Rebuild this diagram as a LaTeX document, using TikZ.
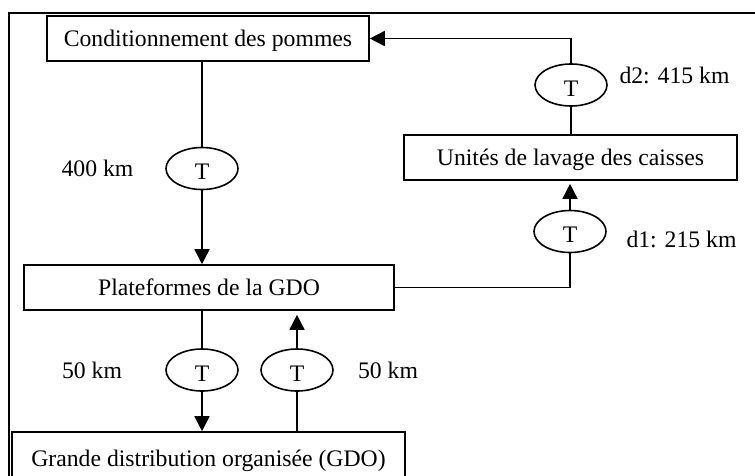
\documentclass[tikz,border=0pt]{standalone}
\usepackage{fontspec}
\setmainfont{Liberation Serif}
\usetikzlibrary{arrows.meta,shapes.geometric}
\begin{document}
\begin{tikzpicture}[x=1pt,y=-1pt,
  every node/.style={font=\fontsize{23.7}{28}\selectfont},
  stage/.style={draw, line width=1.6pt, inner sep=0pt, minimum height=45pt,
    text height=16.5pt, text depth=0pt},
  truck/.style={draw, ellipse, line width=1.6pt, minimum width=72pt,
    minimum height=42pt, inner sep=0pt, text height=22pt, text depth=0pt},
  flow/.style={line width=1.6pt},
  arr/.style={flow, -{Triangle[length=15pt,width=15pt]}}]
  \useasboundingbox (0,0) rectangle (755,475);
  \clip (0,0) rectangle (755,475);

  % outer frame
  \coordinate (fb) at (9,480);
  \coordinate (fc) at (9,13);
  \coordinate (fr) at (760,13);
  \draw[line width=2.4pt] (fb) -- (fc) -- (fr);

  % stages of the chain
  \node[stage, minimum width=322pt] (cond) at (208,38.5) {Conditionnement des pommes};
  \node[stage, minimum width=333pt] (lav) at (570.5,157.5) {Unités de lavage des caisses};
  \node[stage, minimum width=370pt] (plat) at (209,287.5) {Plateformes de la GDO};
  \node[stage, minimum width=393pt, minimum height=53pt] (gdo) at (208.5,458.5) {Grande distribution organisée (GDO)};

  % transport legs
  \node[truck] (t0) at (202,168.5) {T};
  \node[truck] (t2) at (571,85) {T};
  \node[truck] (t1) at (570,231.5) {T};
  \node[truck] (t3) at (202,370) {T};
  \node[truck] (t4) at (297,370) {T};

  % distances
  \node (l0) at (97.5,168.5) {400 km};
  \node (l2) at (674.5,75) {d2: 415 km};
  \node (l1) at (681.5,239.5) {d1: 215 km};
  \node (l3) at (92,370) {50 km};
  \node (l4) at (388,370) {50 km};

  % flows
  \draw[flow] (cond.south -| t0) -- (t0.north);
  \draw[arr] (t0.south) -- (plat.north -| t0);
  \draw[flow] (lav.north -| t2) -- (t2.south);
  \draw[arr] (t2.north) |- (cond.east);
  \draw[flow] (plat.east) -| (t1.south);
  \draw[arr, shorten >=3pt] (t1.north) -- (lav.south -| t1);
  \draw[flow] (plat.south -| t3) -- (t3.north);
  \draw[arr] (t3.south) -- (gdo.north -| t3);
  \draw[flow] (gdo.north -| t4) -- (t4.south);
  \draw[arr, shorten >=4pt] (t4.north) -- (plat.south -| t4);
\end{tikzpicture}
\end{document}
